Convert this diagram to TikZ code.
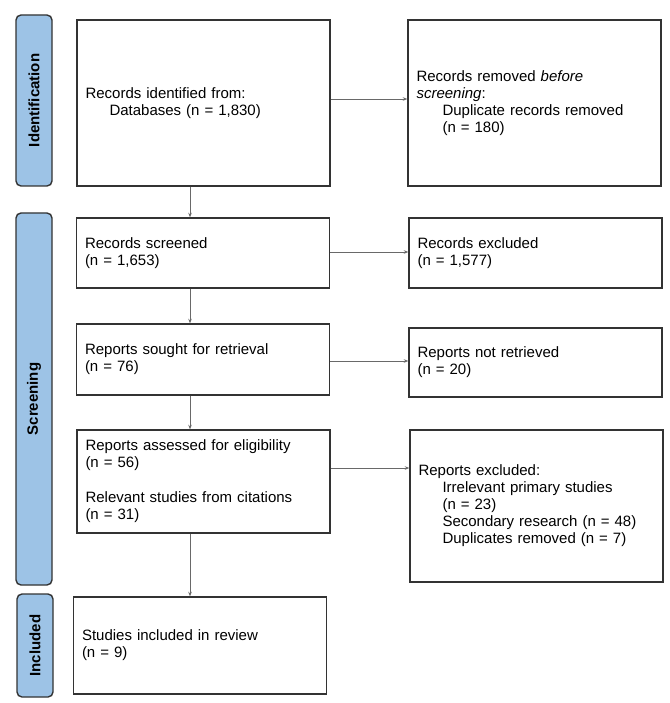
\documentclass[tikz,border=0pt]{standalone}
\usepackage{fontspec}
\setmainfont{Liberation Sans}
\usetikzlibrary{arrows.meta}
\definecolor{barblue}{RGB}{157,195,230}
\definecolor{edgecol}{RGB}{51,51,51}
\definecolor{conncol}{RGB}{105,105,105}
\begin{document}
\begin{tikzpicture}[x=1pt,y=-1pt,
  flow/.style={draw=edgecol, line width=1.4pt, fill=white, inner xsep=8.5pt, inner ysep=0pt,
    text width=236pt, align=left, font=\fontsize{15}{17}\selectfont, anchor=center},
  bar/.style={draw=edgecol, line width=1.4pt, fill=barblue, rounded corners=5pt, inner sep=0pt,
    minimum width=36pt},
  barlabel/.style={rotate=90, font=\bfseries\fontsize{15}{17}\selectfont, inner sep=0pt},
  arr/.style={draw=conncol, line width=0.8pt, -{Stealth[length=4.5pt,width=3.5pt]}}]
\useasboundingbox[fill=white] (0,0) rectangle (669,703);

% phase bars
\node[bar, minimum height=171pt] (idbar) at (34,100.5) {};
\node[barlabel] (idlab) at (idbar.center) {Identification};
\node[bar, minimum height=372pt] (scbar) at (34,399) {};
\node[barlabel] (sclab) at (scbar.center) {Screening};
\node[bar, minimum height=103pt] (incbar) at (35,645.5) {};
\node[barlabel] (inclab) at (incbar.center) {Included};

% boxes
\node[flow, minimum height=166pt] (ident) at (203.5,103)
  {Records identified from:\\\hspace*{24pt}Databases (n = 1,830)};
\node[flow, minimum height=166pt] (removed) at (534.5,103)
  {Records removed \textit{before}\\\textit{screening}:\\\hspace*{26pt}Duplicate records removed\\\hspace*{26pt}(n = 180)};
\node[flow, minimum height=70pt] (screened) at (203,253)
  {Records screened\\(n = 1,653)};
\node[flow, minimum height=70pt] (excluded) at (535.5,253)
  {Records excluded\\(n = 1,577)};
\node[flow, minimum height=71pt] (sought) at (203,359.5)
  {Reports sought for retrieval\\(n = 76)};
\node[flow, minimum height=69pt] (notret) at (535.5,362.5)
  {Reports not retrieved\\(n = 20)};
\node[flow, minimum height=103pt] (assessed) at (203.5,481.5)
  {Reports assessed for eligibility\\(n = 56)\\[18pt]Relevant studies from citations\\(n = 31)};
\node[flow, minimum height=152pt] (repexcl) at (536.5,506)
  {Reports excluded:\\\hspace*{24pt}Irrelevant primary studies\\\hspace*{24pt}(n = 23)\\\hspace*{24pt}Secondary research (n = 48)\\\hspace*{24pt}Duplicates removed (n = 7)};
\node[flow, minimum height=97pt] (studies) at (200,645.5)
  {Studies included in review\\(n = 9)};

% connector guides
\coordinate (colx) at (190,0);
\coordinate (r1) at (0,99);
\coordinate (r2) at (0,252);
\coordinate (r3) at (0,361);
\coordinate (r4) at (0,468);

% connectors
\draw[arr] (ident.south -| colx) -- (screened.north -| colx);
\draw[arr] (screened.south -| colx) -- (sought.north -| colx);
\draw[arr] (sought.south -| colx) -- (assessed.north -| colx);
\draw[arr] (assessed.south -| colx) -- (studies.north -| colx);
\draw[arr] (ident.east |- r1) -- (removed.west |- r1);
\draw[arr] (screened.east |- r2) -- (excluded.west |- r2);
\draw[arr] (sought.east |- r3) -- (notret.west |- r3);
\draw[arr] (assessed.east |- r4) -- (repexcl.west |- r4);
\end{tikzpicture}
\end{document}
